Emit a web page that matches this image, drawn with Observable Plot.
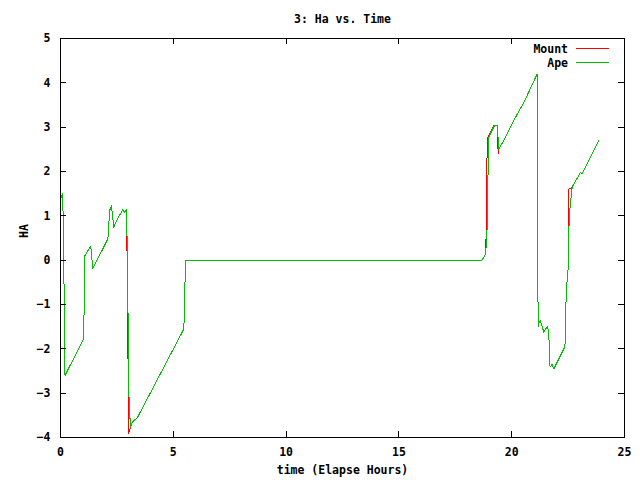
<!DOCTYPE html>
<html><head><meta charset="utf-8">
<script src="https://cdn.jsdelivr.net/npm/d3@7"></script>
<script src="https://cdn.jsdelivr.net/npm/@observablehq/plot@0.6"></script>
<style>
body{margin:0;background:#fff}
#chart svg{font-family:"DejaVu Sans Mono","Liberation Mono",monospace;font-weight:bold}
</style>
</head><body><div id="chart"></div>
<script>
const title = "3: Ha vs. Time";
const xLabel = "time (Elapse Hours)";
const yLabel = "HA";
const seriesNames = ["Mount", "Ape"];
const seriesColors = ["#ff0000", "#00c000"];
const xTicks = [0, 5, 10, 15, 20, 25];
const yTicks = [-4, -3, -2, -1, 0, 1, 2, 3, 4, 5];

const apeT  = [0.0, 0.1, 0.13, 0.18, 0.2, 1.03, 1.06, 1.08, 1.34, 1.43, 2.1, 2.18, 2.26, 2.36, 2.44, 2.76, 2.84, 2.93, 2.97, 3.03, 3.1, 3.18, 3.3, 3.4, 5.47, 5.5, 5.55, 18.69, 18.84, 18.9, 18.98, 19.24, 19.36, 19.43, 19.65, 20.09, 20.54, 21.13, 21.15, 21.17, 21.2, 21.26, 21.33, 21.42, 21.5, 21.6, 21.65, 21.7, 21.79, 21.87, 22.36, 22.42, 22.5, 22.55, 22.68, 23.05, 23.12, 23.86];
const apeHA = [1.37, 1.5, 0.5, -1.5, -2.6, -1.77, -0.5, 0.1, 0.32, -0.19, 0.48, 1.12, 1.23, 0.74, 0.85, 1.14, 1.08, 1.14, -0.12, -3.0, -3.77, -3.66, -3.6, -3.56, -1.55, -0.8, 0.0, 0.0, 0.14, 0.5, 2.77, 3.04, 3.04, 2.51, 2.7, 3.15, 3.56, 4.2, 1.35, -1.51, -1.44, -1.36, -1.45, -1.63, -1.55, -1.5, -1.74, -2.41, -2.35, -2.45, -1.95, -0.68, -0.2, 1.0, 1.65, 1.98, 1.95, 2.7];

const mountT  = [0.0, 0.1, 0.13, 0.18, 0.2, 1.03, 1.06, 1.08, 1.34, 1.43, 2.1, 2.18, 2.26, 2.36, 2.44, 2.76, 2.84, 2.93, 2.94, 2.96, 2.99, 3.01, 3.1, 3.18, 3.3, 3.4, 5.47, 5.5, 5.55, 18.69, 18.84, 18.86, 18.89, 18.93, 19.2, 19.36, 19.4, 19.43, 19.65, 20.09, 20.54, 21.13, 21.15, 21.17, 21.2, 21.26, 21.33, 21.42, 21.5, 21.6, 21.65, 21.7, 21.79, 21.87, 22.36, 22.42, 22.5, 22.51, 22.54, 22.68, 23.05, 23.12, 23.86];
const mountHA = [1.37, 1.5, 0.5, -1.5, -2.6, -1.77, -0.5, 0.1, 0.32, -0.19, 0.48, 1.12, 1.23, 0.74, 0.85, 1.14, 1.08, 1.14, 0.67, -0.5, -2.0, -3.92, -3.77, -3.66, -3.6, -3.56, -1.55, -0.8, 0.0, 0.0, 0.14, 0.37, 2.0, 2.76, 3.04, 3.04, 2.4, 2.51, 2.7, 3.15, 3.56, 4.2, 1.35, -1.51, -1.44, -1.36, -1.45, -1.63, -1.55, -1.5, -1.74, -2.41, -2.35, -2.45, -1.95, -0.68, -0.2, 0.3, 1.6, 1.65, 1.98, 1.95, 2.7];

const mount = mountT.map((t, i) => ({t, v: mountHA[i]}));
const ape = apeT.map((t, i) => ({t, v: apeHA[i]}));

const W = 640, H = 480, mL = 60, mR = 16, mT = 38, mB = 43;
const innerW = W - mL - mR, innerH = H - mT - mB;
const fs = 11.5;

const chart = Plot.plot({
  width: W, height: H,
  marginLeft: mL, marginRight: mR, marginTop: mT, marginBottom: mB,
  style: {fontSize: fs + "px", fontFamily: "DejaVu Sans Mono", fontWeight: "bold", background: "#fff", color: "#000"},
  x: {domain: [0, 25]},
  y: {domain: [-4, 5]},
  marks: [
    Plot.line(mount, {x: "t", y: "v", stroke: seriesColors[0], strokeWidth: 1, shapeRendering: "crispEdges"}),
    Plot.line(ape, {x: "t", y: "v", stroke: seriesColors[1], strokeWidth: 1, shapeRendering: "crispEdges"}),
    Plot.frame({stroke: "#000", strokeWidth: 1, shapeRendering: "crispEdges"}),
    Plot.tickX(xTicks, {x: d => d, stroke: "#000", insetTop: innerH - 6, shapeRendering: "crispEdges"}),
    Plot.tickX(xTicks, {x: d => d, stroke: "#000", insetBottom: innerH - 6, shapeRendering: "crispEdges"}),
    Plot.tickY(yTicks, {y: d => d, stroke: "#000", insetLeft: innerW - 6, shapeRendering: "crispEdges"}),
    Plot.tickY(yTicks, {y: d => d, stroke: "#000", insetRight: innerW - 6, shapeRendering: "crispEdges"}),
    Plot.axisX({ticks: xTicks, tickSize: 0, tickPadding: 10, label: null, fill: "#000", fontSize: fs}),
    Plot.axisY({ticks: yTicks, tickSize: 0, tickPadding: 10, label: null, fill: "#000", fontSize: fs}),
    Plot.text([title], {text: d => d, frameAnchor: "top", dy: -24, fill: "#000", fontSize: fs}),
    Plot.text([xLabel], {text: d => d, frameAnchor: "bottom", dy: 36, fill: "#000", fontSize: fs}),
    Plot.text([yLabel], {text: d => d, frameAnchor: "left", dx: -36, rotate: -90, fill: "#000", fontSize: fs})
  ]
});

const svg = d3.select(chart);
const leg = svg.append("g");
seriesNames.forEach((name, i) => {
  const y = 48 + i * 14;
  leg.append("text").attr("x", 568).attr("y", y).attr("dy", "0.4em")
    .attr("text-anchor", "end").attr("font-size", fs).attr("font-weight", "bold")
    .attr("font-family", "DejaVu Sans Mono").attr("fill", "#000").text(name);
  leg.append("line").attr("x1", 576).attr("x2", 609).attr("y1", y + 0.5).attr("y2", y + 0.5)
    .attr("stroke", seriesColors[i]).attr("stroke-width", 1).attr("shape-rendering", "crispEdges");
});
document.getElementById("chart").appendChild(chart);
</script>
</body></html>
